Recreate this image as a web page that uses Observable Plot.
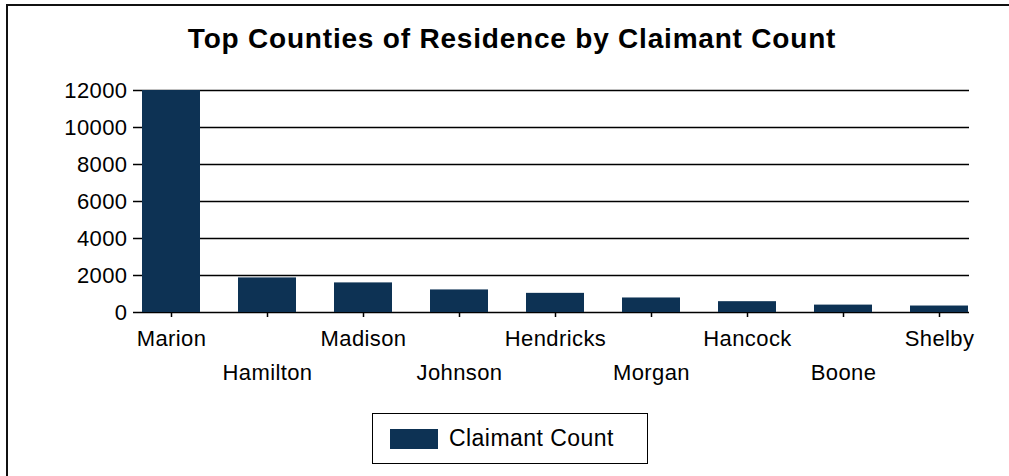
<!DOCTYPE html>
<html>
<head>
<meta charset="utf-8">
<script src="https://cdn.jsdelivr.net/npm/d3@7"></script>
<script src="https://cdn.jsdelivr.net/npm/@observablehq/plot@0.6"></script>
<style>
  html, body { margin: 0; padding: 0; background: #fff; }
  body { font-family: "Liberation Sans", Arial, sans-serif; }
  #wrap { position: relative; width: 1009px; height: 476px; overflow: hidden; background: #fff; }
  #bl { position: absolute; left: 6px; top: 4px; width: 2px; height: 480px; background: #111; }
  #bt { position: absolute; left: 6px; top: 4px; width: 1010px; height: 2px; background: #111; }
  #title { position: absolute; left: 0; top: 21px; width: 1024px; text-align: center; font-weight: bold; font-size: 28px; letter-spacing: 0.8px; line-height: 36px; color: #000; }
  #chart { position: absolute; left: 0; top: 70px; }
  #chart svg text { letter-spacing: 0.4px; }
  #legend { position: absolute; left: 372px; top: 413px; width: 274px; height: 49px; border: 1.5px solid #000; box-sizing: content-box; }
  #legend .sw { position: absolute; left: 17px; top: 15px; width: 48px; height: 20px; background: #0d3254; }
  #legend .lb { position: absolute; left: 76px; top: 9px; font-size: 23px; letter-spacing: 0.45px; line-height: 30px; color: #000; }
</style>
</head>
<body>
<div id="wrap">
  <div id="bl"></div>
  <div id="bt"></div>
  <div id="title">Top Counties of Residence by Claimant Count</div>
  <div id="chart"></div>
  <div id="legend"><div class="sw"></div><div class="lb">Claimant Count</div></div>
</div>
<script>
const counties = ["Marion", "Hamilton", "Madison", "Johnson", "Hendricks", "Morgan", "Hancock", "Boone", "Shelby"];
const claimantCounts = [12000, 1870, 1600, 1220, 1035, 785, 585, 400, 350];
const yTicks = [0, 2000, 4000, 6000, 8000, 10000, 12000];
const seriesName = "Claimant Count";

const data = counties.map((c, i) => ({county: c, count: claimantCounts[i]}));
const rowA = counties.filter((d, i) => i % 2 === 0);
const rowB = counties.filter((d, i) => i % 2 === 1);

const chart = Plot.plot({
  width: 1009,
  height: 340,
  marginTop: 20,
  marginBottom: 98,
  marginLeft: 133,
  marginRight: 40,
  style: {fontFamily: "Liberation Sans, Arial, sans-serif", fontSize: "22px", color: "#000", background: "transparent"},
  x: {domain: counties, range: [123.1, 987.1], paddingInner: 0.4, paddingOuter: 0.2, label: null},
  y: {domain: [0, 12000], label: null},
  marks: [
    Plot.ruleY(yTicks, {stroke: "#000", strokeWidth: 1.4}),
    Plot.barY(data, {x: "county", y: "count", fill: "#0d3254"}),
    Plot.axisY(yTicks, {tickSize: 0, tickPadding: 6, fontSize: 22, label: null, tickFormat: d => String(d)}),
    Plot.axisX(rowA, {tickSize: 5, tickPadding: 13, fontSize: 22, label: null, stroke: "#000", strokeWidth: 1.5}),
    Plot.axisX(rowB, {tickSize: 5, tickPadding: 47, fontSize: 22, label: null, stroke: "#000", strokeWidth: 1.5})
  ]
});
document.getElementById("chart").appendChild(chart);
</script>
</body>
</html>
